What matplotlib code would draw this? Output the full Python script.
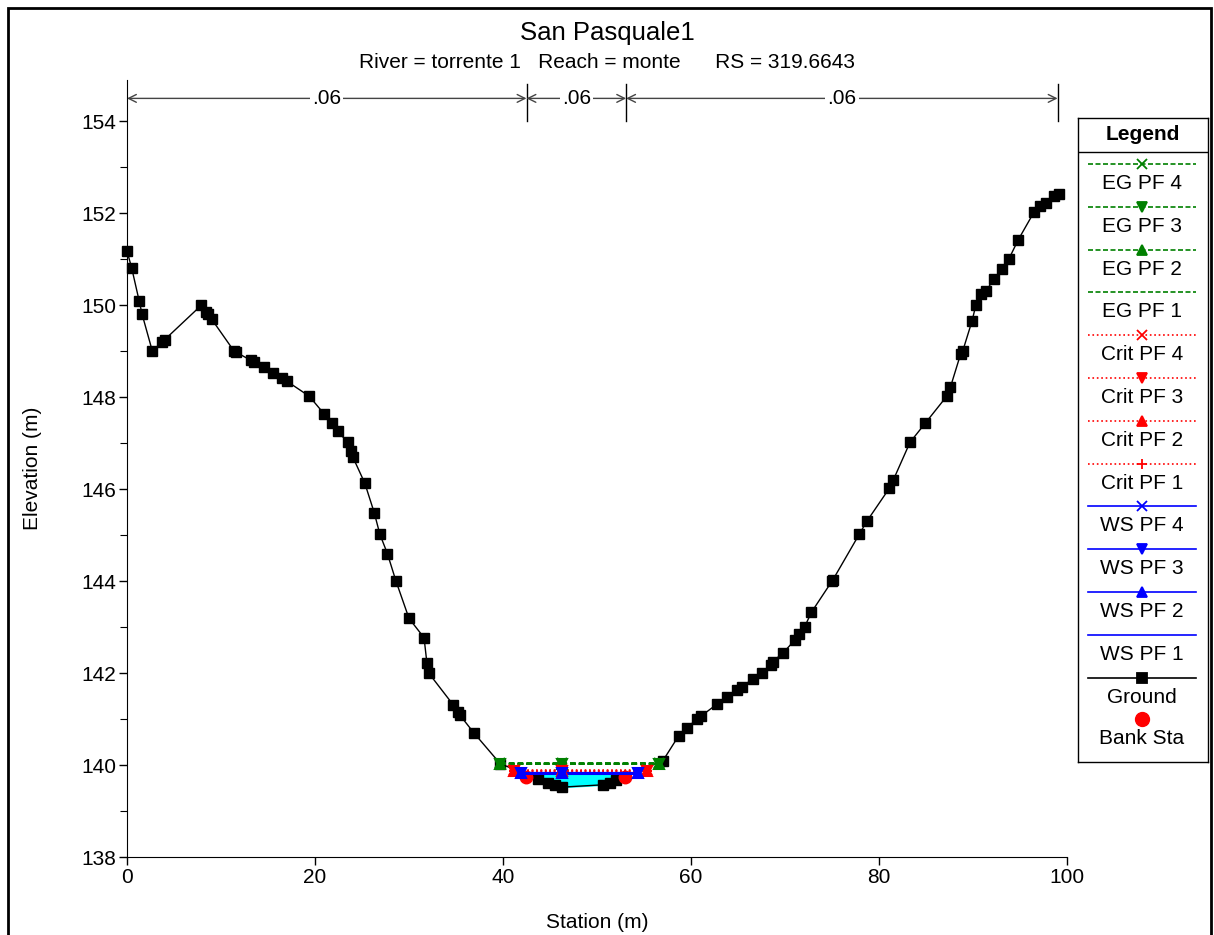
import numpy as np
import matplotlib
matplotlib.use('Agg')
import matplotlib.pyplot as plt
from matplotlib.patches import Rectangle

plt.rcParams['font.family'] = ['Liberation Sans', 'DejaVu Sans']

# ground survey points (station m, elevation m)
ground_sta = [0.0, 0.5, 1.3, 1.6, 2.7, 3.7, 4.0, 7.9, 8.4, 8.6,
              9.0, 11.4, 11.6, 13.2, 13.5, 14.6, 15.5, 16.5, 17.0, 19.4,
              21.0, 21.8, 22.4, 23.5, 23.8, 24.0, 25.3, 26.3, 26.9, 27.7,
              28.6, 30.0, 31.6, 31.9, 32.1, 34.7, 35.2, 35.4, 36.9, 39.7,
              43.7, 44.8, 45.5, 46.3, 50.6, 51.4, 52.0, 57.0, 58.7, 59.6,
              60.6, 61.1, 62.8, 63.8, 64.9, 65.4, 66.6, 67.6, 68.5, 68.7,
              69.8, 71.1, 71.5, 72.1, 72.8, 75.0, 75.1, 77.9, 78.7, 81.1,
              81.5, 83.3, 84.9, 87.2, 87.6, 88.7, 88.9, 89.9, 90.3, 90.9,
              91.4, 92.2, 93.1, 93.8, 94.8, 96.5, 97.1, 97.8, 98.6, 99.1]
ground_elev = [151.18, 150.81, 150.09, 149.81, 149.0, 149.2, 149.25, 150.0, 149.85, 149.8,
               149.7, 149.0, 148.98, 148.8, 148.76, 148.65, 148.52, 148.41, 148.35, 148.02,
               147.63, 147.43, 147.26, 147.02, 146.82, 146.71, 146.13, 145.49, 145.02, 144.6,
               144.01, 143.19, 142.77, 142.23, 142.0, 141.31, 141.16, 141.09, 140.70, 140.03,
               139.70, 139.61, 139.57, 139.52, 139.57, 139.61, 139.68, 140.09, 140.64, 140.81,
               141.0, 141.07, 141.33, 141.49, 141.64, 141.70, 141.88, 142.01, 142.18, 142.25,
               142.44, 142.73, 142.86, 143.01, 143.32, 144.0, 144.03, 145.02, 145.30, 146.02,
               146.19, 147.02, 147.43, 148.02, 148.22, 148.95, 149.0, 149.66, 150.0, 150.24,
               150.31, 150.57, 150.79, 151.0, 151.42, 152.03, 152.16, 152.23, 152.38, 152.42]

bank_sta = [42.4, 53.0]
bank_elev = [139.74, 139.74]

# manning n zones
n_edges = [0.0, 42.5, 53.1, 99.0]
n_values = ['.06', '.06', '.06']

profiles = ['PF 1', 'PF 2', 'PF 3', 'PF 4']
pf_markers = [None, '^', 'v', 'x']
crit_markers = ['+', '^', 'v', 'x']
mid_sta = 46.3

ws_elev = [139.81, 139.82, 139.82, 139.83]
ws_lr = [41.9, 54.4]
crit_elev = [139.87, 139.88, 139.88, 139.89]
crit_lr = [41.2, 55.3]
eg_elev = [140.02, 140.03, 140.03, 140.04]
eg_lr = [39.7, 56.6]

FS = 15

fig = plt.figure(figsize=(12.14, 9.35), dpi=100)
ax = fig.add_axes([127/1214, 1-857/935, 940/1214, 777/935])

# water area
gs = np.array(ground_sta)
ge = np.array(ground_elev)
xs = np.concatenate([[ws_lr[0]], gs[(gs > ws_lr[0]) & (gs < ws_lr[1])], [ws_lr[1]]])
ax.fill_between(xs, np.interp(xs, gs, ge), ws_elev[-1], color='#00ffff', zorder=1)

ax.plot(ground_sta, ground_elev, color='black', lw=1, marker='s', ms=6.8, zorder=3,
        clip_on=False)
ax.plot(bank_sta, bank_elev, ls='none', marker='o', color='red', ms=9, zorder=4)

def draw_profile(elevs, lr, color, ls, markers, lw):
    for e, m in zip(elevs, markers):
        ax.plot(lr, [e, e], color=color, ls=ls, lw=lw, zorder=5)
        if m is not None:
            ax.plot([lr[0], mid_sta, lr[1]], [e, e, e], ls='none', marker=m, color=color,
                    ms=7, mew=1.5, zorder=6)

draw_profile(eg_elev, eg_lr, '#008000', (0, (3, 1.5)), pf_markers, 1.4)
draw_profile(crit_elev, crit_lr, 'red', ':', crit_markers, 1.2)
draw_profile(ws_elev, ws_lr, 'blue', '-', pf_markers, 1.5)

ax.set_xlim(0, 100)
ax.set_ylim(138, 154.9)
ax.set_xticks(range(0, 101, 20))
ax.set_yticks(range(138, 155, 2))
ax.set_yticks(range(139, 155, 2), minor=True)
ax.spines['top'].set_visible(False)
ax.spines['right'].set_visible(False)
ax.tick_params(direction='out', length=6, labelsize=FS, width=1, pad=2)
ax.tick_params(which='minor', direction='out', length=5, width=0.8)
ax.set_xlabel('Station (m)', fontsize=FS, labelpad=19)
ax.set_ylabel('Elevation (m)', fontsize=FS, labelpad=28)

# manning n arrows
arr_y = 154.5
for i, nv in enumerate(n_values):
    x0, x1 = n_edges[i], n_edges[i + 1]
    ax.annotate('', xy=(x0, arr_y), xytext=(x1, arr_y), annotation_clip=False,
                arrowprops=dict(arrowstyle='<->', color='#444444', lw=1,
                                shrinkA=0, shrinkB=0, mutation_scale=14))
    ax.text((x0 + x1) / 2, arr_y, nv, ha='center', va='center', fontsize=FS,
            bbox=dict(facecolor='white', edgecolor='none', pad=1.5), zorder=7)
for x in n_edges[1:]:
    ax.plot([x, x], [154.0, 154.82], color='black', lw=1, clip_on=False)

fig.text(0.5, 1-33/935, 'San Pasquale1', ha='center', va='center', fontsize=18.5)
fig.text(0.5, 1-63/935, 'River = torrente 1   Reach = monte      RS = 319.6643',
         ha='center', va='center', fontsize=FS)

# custom legend box
lax = fig.add_axes([1078/1214, 1-762/935, 130/1214, 644/935])
lax.set_xlim(0, 130)
lax.set_ylim(762, 118)
lax.set_xticks([])
lax.set_yticks([])
for s in lax.spines.values():
    s.set_linewidth(1)
lax.text(65, 135, 'Legend', ha='center', va='center', fontsize=FS, fontweight='bold')
lax.plot([0, 130], [152, 152], color='black', lw=1)

leg_labels = ['EG PF 4', 'EG PF 3', 'EG PF 2', 'EG PF 1',
              'Crit PF 4', 'Crit PF 3', 'Crit PF 2', 'Crit PF 1',
              'WS PF 4', 'WS PF 3', 'WS PF 2', 'WS PF 1', 'Ground']
leg_colors = ['#008000'] * 4 + ['red'] * 4 + ['blue'] * 4 + ['black']
leg_ls = [(0, (3, 1.5))] * 4 + [':'] * 4 + ['-'] * 4 + ['-']
leg_mk = ['x', 'v', '^', None, 'x', 'v', '^', '+', 'x', 'v', '^', None, 's']
for i, (lab, c, ls, m) in enumerate(zip(leg_labels, leg_colors, leg_ls, leg_mk)):
    y = 164 + i * 42.8
    lax.plot([10, 118], [y, y], color=c, ls=ls, lw=1.2)
    if m is not None:
        lax.plot([64], [y], marker=m, color=c, ms=7, mew=1.3)
    lax.text(64, y + 19.5, lab, ha='center', va='center', fontsize=FS)
lax.plot([64], [719], marker='o', color='red', ms=10)
lax.text(64, 739, 'Bank Sta', ha='center', va='center', fontsize=FS)

fig.patches.append(Rectangle((8/1214, -0.01), 1203/1214, 1-8/935 + 0.01,
                             transform=fig.transFigure, fill=False, lw=2, color='black'))

fig.savefig('out.png', dpi=100)
